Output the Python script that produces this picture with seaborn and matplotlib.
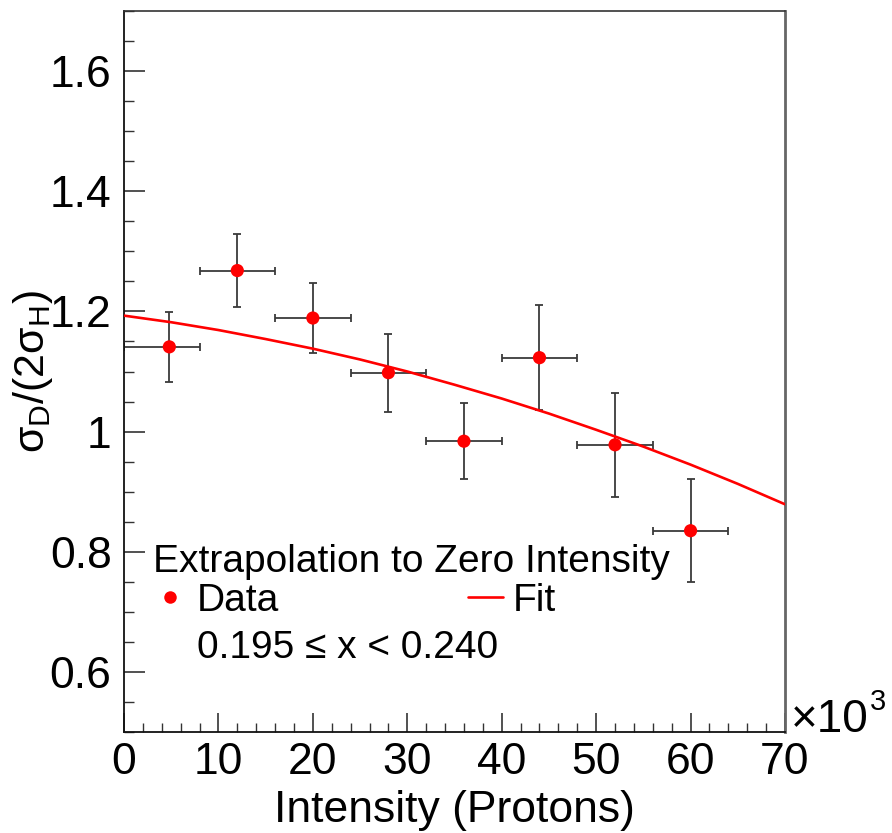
import numpy as np
import pandas as pd
import matplotlib
matplotlib.use("Agg")
import matplotlib.pyplot as plt
import seaborn as sns
from matplotlib.ticker import MultipleLocator, FuncFormatter
from matplotlib.lines import Line2D

# ---------------- data ----------------
intensity_k = [4.8, 12.0, 20.0, 28.0, 36.0, 44.0, 52.0, 60.0]      # x 10^3 protons
ratio = [1.141, 1.268, 1.189, 1.098, 0.984, 1.123, 0.978, 0.835]
ratio_err = [0.058, 0.061, 0.059, 0.065, 0.063, 0.087, 0.087, 0.086]
x_err_low = [4.8, 4.0, 4.0, 4.0, 4.0, 4.0, 4.0, 4.0]
x_err_high = [3.3, 4.0, 4.0, 4.0, 4.0, 4.0, 4.0, 4.0]

fit_x = [0, 5, 10, 15, 20, 25, 30, 35, 40, 45, 50, 55, 60, 65, 70]
fit_y = [1.193, 1.182, 1.169, 1.154, 1.138, 1.120, 1.100, 1.078,
         1.055, 1.030, 1.003, 0.975, 0.945, 0.913, 0.879]

x_ticks = [0, 10, 20, 30, 40, 50, 60, 70]
y_ticks = [0.6, 0.8, 1.0, 1.2, 1.4, 1.6]

x_title = "Intensity (Protons)"
y_title = r"$\sigma_{\mathrm{D}}/(2\sigma_{\mathrm{H}})$"
x_mult_base = "\u00d710"
x_mult_exp = "3"
header_text = "Extrapolation to Zero Intensity"
range_text = "0.195 \u2264 x < 0.240"

# ---------------- style ----------------
MAIN = "Liberation Sans"
sns.set_theme(style="white")
plt.rcParams["font.family"] = [MAIN, "DejaVu Sans"]
plt.rcParams["mathtext.fontset"] = "custom"
plt.rcParams["mathtext.rm"] = MAIN
plt.rcParams["mathtext.it"] = MAIN
plt.rcParams["mathtext.bf"] = MAIN
plt.rcParams["text.color"] = "black"
plt.rcParams["xtick.color"] = "#333333"
plt.rcParams["ytick.color"] = "#333333"
plt.rcParams["xtick.labelcolor"] = "black"
plt.rcParams["ytick.labelcolor"] = "black"

W, H = 892, 833
fig = plt.figure(figsize=(W / 100, H / 100), dpi=100)
fig.patch.set_facecolor("white")
L, R, T, B = 124, 785, 11, 732
ax = fig.add_axes([L / W, 1 - B / H, (R - L) / W, (B - T) / H])
ax.set_facecolor("white")

df = pd.DataFrame({"x": intensity_k, "y": ratio, "yerr": ratio_err,
                   "xlo": x_err_low, "xhi": x_err_high})
fit_df = pd.DataFrame({"x": fit_x, "y": fit_y})

# error bars
ax.errorbar(df["x"], df["y"], yerr=df["yerr"],
            xerr=[df["xlo"], df["xhi"]], fmt="none", ecolor="#3a3a3a",
            elinewidth=1.3, capsize=3, capthick=1.3, zorder=2)
# fit
sns.lineplot(data=fit_df, x="x", y="y", ax=ax, color="#ff0000",
             linewidth=1.9, zorder=3, legend=False)
# points
sns.scatterplot(data=df, x="x", y="y", ax=ax, color="#ff0000", s=90,
                edgecolor="none", zorder=4, legend=False)

ax.set_xlim(0, 70)
ax.set_ylim(0.5, 1.7)
ax.set_xlabel("")
ax.set_ylabel("")

ax.set_xticks(x_ticks)
ax.set_yticks(y_ticks)
ax.xaxis.set_minor_locator(MultipleLocator(2))
ax.yaxis.set_minor_locator(MultipleLocator(0.05))
ax.yaxis.set_major_formatter(FuncFormatter(lambda v, p: "%g" % round(v, 3)))

ax.tick_params(axis="both", which="both", direction="in",
               bottom=True, left=True, top=False, right=False)
ax.tick_params(axis="y", which="major", length=15, width=1.2, labelsize=32, pad=9)
ax.tick_params(axis="y", which="minor", length=7.5, width=1.0)
ax.tick_params(axis="x", which="major", length=14, width=1.2,
               labelsize=32, pad=7)
ax.tick_params(axis="x", which="minor", length=6.5, width=1.0)

for s in ["left", "bottom"]:
    ax.spines[s].set_color("#111111")
    ax.spines[s].set_linewidth(1.3)
ax.spines["top"].set_color("#333333")
ax.spines["top"].set_linewidth(1.2)
ax.spines["right"].set_color("#666666")
ax.spines["right"].set_linewidth(2.0)

# axis titles
fig.text((L + R) / 2 / W, 1 - 822 / H, x_title, ha="center",
         va="baseline", fontsize=32)
fig.text(55 / W, 1 - 372 / H, y_title,
         rotation=90, ha="right", va="center", fontsize=31)

# x10^3 multiplier
renderer = fig.canvas.get_renderer()
t_base = fig.text(791 / W, 1 - 732 / H, x_mult_base, ha="left",
                  va="baseline", fontsize=33)
bb = t_base.get_window_extent(renderer)
fig.text((bb.x1 + 1) / W, 1 - 710 / H, x_mult_exp, ha="left",
         va="baseline", fontsize=21)

# legend-like annotation
fig.text(153 / W, 1 - 572 / H, header_text, ha="left", va="baseline",
         fontsize=28)
fig.text(197 / W, 1 - 658 / H, range_text, ha="left", va="baseline",
         fontsize=28)
handles = [Line2D([], [], linestyle="none", marker="o", color="#ff0000",
                  markersize=9, markeredgewidth=0),
           Line2D([], [], color="#ff0000", linewidth=1.9)]
leg = ax.legend(handles, ["Data", "Fit"], ncol=2, frameon=False,
                fontsize=28, handlelength=0.9, handletextpad=0.25,
                columnspacing=4.85, loc="center left",
                bbox_to_anchor=(152 / W, 1 - 601 / H),
                bbox_transform=fig.transFigure, borderpad=0, borderaxespad=0)
for t in leg.get_texts():
    t.set_color("black")

fig.savefig("out.png", dpi=100, facecolor="white")
